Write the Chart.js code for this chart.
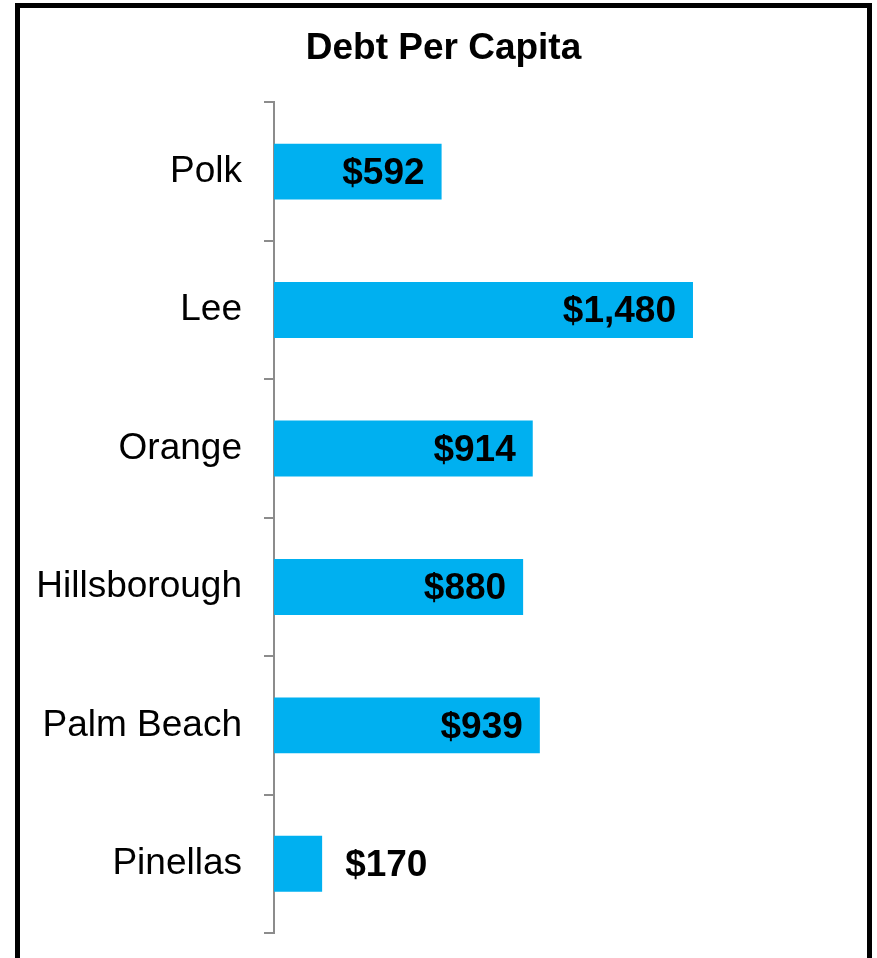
<!DOCTYPE html>
<html>
<head>
<meta charset="utf-8">
<script src="https://cdn.jsdelivr.net/npm/chart.js@4"></script>
<style>
	body { margin: 0; background: #fff; overflow: hidden; }
	#wrap { position: absolute; left: 0; top: 0; width: 877px; height: 958px; }
	#frame { position: absolute; left: 15px; top: 3px; width: 857px; height: 1000px; border: 5px solid #000; box-sizing: border-box; }
</style>
</head>
<body>
<div id="frame"></div>
<div id="wrap"><canvas id="debtChart"></canvas></div>
<script>
const COUNTIES = ['Polk', 'Lee', 'Orange', 'Hillsborough', 'Palm Beach', 'Pinellas'];
const DEBT_PER_CAPITA = [592, 1480, 914, 880, 939, 170];
const CHART_TITLE = 'Debt Per Capita';

const FONT = '"Liberation Sans", Arial, sans-serif';
const AXIS_GREY = '#8c8c8c';

const formatDollar = (v) => '$' + v.toLocaleString('en-US');

// draws the $ values at the end of each bar, inside when they fit
const barValueLabels = {
	id: 'barValueLabels',
	afterDatasetsDraw: (chart) => {
		const { ctx } = chart;
		const meta = chart.getDatasetMeta(0);
		ctx.save();
		ctx.font = 'bold 37px ' + FONT;
		ctx.fillStyle = '#000';
		ctx.textBaseline = 'middle';
		meta.data.forEach((bar, i) => {
			let txt = formatDollar(DEBT_PER_CAPITA[i]);
			let w = ctx.measureText(txt).width;
			let barW = bar.x - bar.base;
			if (w + 30 < barW) {
				ctx.textAlign = 'right';
				ctx.fillText(txt, bar.x - 17, bar.y + 2);
			} else {
				ctx.textAlign = 'left';
				ctx.fillText(txt, bar.x + 23, bar.y + 2);
			}
		});
		ctx.restore();
	}
};

new Chart(document.getElementById('debtChart'), {
	type: 'bar',
	data: {
		labels: COUNTIES,
		datasets: [{
			label: CHART_TITLE,
			data: DEBT_PER_CAPITA,
			backgroundColor: '#00b0f0',
			borderWidth: 0,
			categoryPercentage: 1.0,
			barPercentage: 0.404,
		}]
	},
	options: {
		indexAxis: 'y',
		responsive: true,
		maintainAspectRatio: false,
		animation: false,
		layout: {
			padding: { left: 10, right: 0, top: 0, bottom: 25 }
		},
		scales: {
			x: {
				display: false,
				min: 0,
				max: 2130,
			},
			y: {
				afterFit: (scale) => {
					scale.width = 264;
					scale.paddingTop = 0;
					scale.paddingBottom = 0;
				},
				border: { display: true, color: AXIS_GREY, width: 2 },
				grid: {
					offset: true,
					drawOnChartArea: false,
					drawTicks: true,
					tickLength: 10,
					color: AXIS_GREY,
					lineWidth: 2,
				},
				ticks: {
					color: '#000',
					padding: 22,
					font: { family: FONT, size: 37 },
				}
			}
		},
		plugins: {
			legend: { display: false },
			tooltip: { enabled: false },
			title: {
				display: true,
				text: CHART_TITLE,
				color: '#000',
				font: { family: FONT, size: 37, weight: 'bold' },
				padding: { top: 27, bottom: 31 },
			}
		}
	},
	plugins: [barValueLabels]
});
</script>
</body>
</html>
